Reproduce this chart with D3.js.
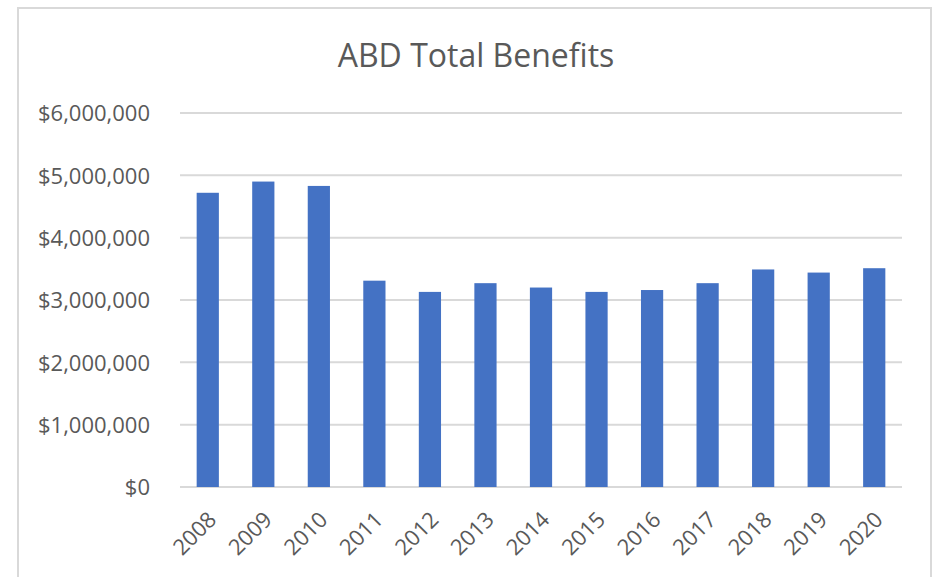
<!DOCTYPE html>
<html>
<head>
<meta charset="utf-8">
<script src="https://cdn.jsdelivr.net/npm/d3@7"></script>
<style>
  body { margin: 0; background: #fff; }
  svg text { font-family: "Open Sans", sans-serif; fill: #595959; }
</style>
</head>
<body>
<div id="chart"></div>
<script>
// chart data
const years = ["2008","2009","2010","2011","2012","2013","2014","2015","2016","2017","2018","2019","2020"];
const benefits = [4720000, 4900000, 4830000, 3310000, 3130000, 3270000, 3200000, 3130000, 3160000, 3270000, 3490000, 3440000, 3510000];
const yTicks = [0, 1000000, 2000000, 3000000, 4000000, 5000000, 6000000];

const width = 938;
const height = 577;
const margin = {left: 180, right: 36, top: 113, bottom: 90};

const svg = d3.select("#chart")
  .append("svg")
  .attr("width", width)
  .attr("height", height);

// chart frame
svg.append("rect")
  .attr("x", 18).attr("y", 8)
  .attr("width", 913).attr("height", 600)
  .attr("fill", "#fff")
  .attr("stroke", "#d9d9d9")
  .attr("stroke-width", 2);

// scales
const xScale = d3.scaleBand()
  .domain(years)
  .range([margin.left, width - margin.right])
  .paddingInner(0.6)
  .paddingOuter(0.3);

const yScale = d3.scaleLinear()
  .domain([0, 6000000])
  .range([height - margin.bottom, margin.top]);

// gridlines
svg.append("g")
  .selectAll("line")
  .data(yTicks)
  .enter()
  .append("line")
    .attr("x1", margin.left)
    .attr("x2", width - margin.right)
    .attr("y1", d => yScale(d))
    .attr("y2", d => yScale(d))
    .attr("stroke", "#d9d9d9")
    .attr("stroke-width", 2);

// y axis labels
const fmt = d3.format("$,.0f");
const yAxis = svg.append("g")
  .attr("transform", `translate(${margin.left - 30},0)`)
  .call(d3.axisLeft(yScale).tickValues(yTicks).tickFormat(fmt).tickSize(0).tickPadding(0));
yAxis.select(".domain").remove();
yAxis.selectAll("text")
  .attr("font-size", "22px")
  .attr("dy", "0.36em");

// bars
svg.selectAll(".bar")
  .data(benefits)
  .enter()
  .append("rect")
    .attr("class", "bar")
    .attr("x", (d, i) => xScale(years[i]))
    .attr("y", d => yScale(d))
    .attr("width", xScale.bandwidth())
    .attr("height", d => yScale(0) - yScale(d))
    .attr("fill", "#4472c4");

// x axis labels
const xAxis = svg.append("g")
  .attr("transform", `translate(0,${height - margin.bottom})`)
  .call(d3.axisBottom(xScale).tickSize(0).tickPadding(0));
xAxis.select(".domain").remove();
xAxis.selectAll("text")
  .attr("font-size", "22px")
  .attr("text-anchor", "end")
  .attr("dy", "0")
  .attr("transform", "translate(10,34) rotate(-45)");

// title
svg.append("text")
  .attr("x", 476)
  .attr("y", 67)
  .attr("text-anchor", "middle")
  .attr("font-size", "32px")
  .text("ABD Total Benefits");
</script>
</body>
</html>
